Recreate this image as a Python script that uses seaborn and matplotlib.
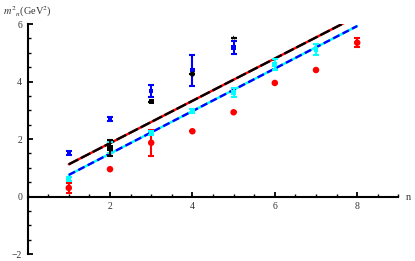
import numpy as np
import pandas as pd
import matplotlib
matplotlib.use("Agg")
import matplotlib.pyplot as plt
import seaborn as sns
from matplotlib.ticker import MultipleLocator, FixedLocator

sns.set_theme(style="white")
plt.rcParams['font.family'] = ['Liberation Serif', 'DejaVu Serif']
plt.rcParams['mathtext.fontset'] = 'stix'

# ---- data ----
line_n = [1, 8]
fit_upper = [1.12, 6.27]      # black/red dashed line
fit_lower = [0.75, 5.93]      # blue/cyan dash line

blue_n = [1, 2, 3, 4, 5]
blue_y = [1.52, 2.70, 3.67, 4.39, 5.18]
blue_err = [0.08, 0.07, 0.20, 0.53, 0.23]

black_n = [2, 3, 4, 5]
black_y = [1.69, 3.30, 4.26, 5.52]
black_err = [0.27, 0.0, 0.0, 0.0]
black_marker = ['s', 's', 'o', '*']

cyan_n = [1, 2, 3, 4, 5, 6, 7]
cyan_y = [0.61, 1.70, 2.20, 2.98, 3.62, 4.60, 5.12]
cyan_err = [0.08, 0.18, 0.07, 0.07, 0.15, 0.20, 0.20]

red_n = [1, 2, 3, 4, 5, 6, 7, 8]
red_y = [0.30, 0.95, 1.87, 2.27, 2.93, 3.95, 4.40, 5.35]
red_err = [0.18, 0.0, 0.46, 0.0, 0.0, 0.0, 0.0, 0.15]

x_ticks = [2, 4, 6, 8]
y_ticks = [-2, 0, 2, 4, 6]

# ---- figure ----
fig = plt.figure(figsize=(4.15, 2.61), dpi=100)
ax = fig.add_axes([0.0665, 0.0268, 0.8935, 0.8812])

lines_df = pd.DataFrame({'n': line_n, 'up': fit_upper, 'lo': fit_lower})

sns.lineplot(data=lines_df, x='n', y='up', ax=ax, color='red', lw=1.7, zorder=2)
sns.lineplot(data=lines_df, x='n', y='up', ax=ax, color='black', lw=1.7, zorder=3,
             dashes=False)
ax.lines[-1].set_dashes([4.5, 1.2])
sns.lineplot(data=lines_df, x='n', y='lo', ax=ax, color='cyan', lw=1.7, zorder=2)
sns.lineplot(data=lines_df, x='n', y='lo', ax=ax, color='blue', lw=1.7, zorder=3)
ax.lines[-1].set_dashes([3.0, 1.5])

# error bars
ax.errorbar(red_n, red_y, yerr=red_err, fmt='none', ecolor='red', elinewidth=1.5,
            capsize=2.5, capthick=1.5, zorder=4)
ax.errorbar(cyan_n, cyan_y, yerr=cyan_err, fmt='none', ecolor='cyan', elinewidth=1.5,
            capsize=2.5, capthick=1.5, zorder=4)
ax.errorbar(blue_n, blue_y, yerr=blue_err, fmt='none', ecolor='blue', elinewidth=1.5,
            capsize=2.5, capthick=1.5, zorder=5)
ax.errorbar(black_n, black_y, yerr=black_err, fmt='none', ecolor='black', elinewidth=1.5,
            capsize=2.5, capthick=1.5, zorder=5)

sns.scatterplot(x=red_n, y=red_y, ax=ax, color='red', s=22, marker='o',
                edgecolor='none', zorder=6)
sns.scatterplot(x=cyan_n, y=cyan_y, ax=ax, color='cyan', s=12, marker='s',
                edgecolor='none', zorder=6)
sns.scatterplot(x=blue_n, y=blue_y, ax=ax, color='blue', s=10, marker='s',
                edgecolor='none', zorder=6)
for xn, yv, mk in zip(black_n, black_y, black_marker):
    sns.scatterplot(x=[xn], y=[yv], ax=ax, color='black', s=14, marker=mk,
                    edgecolor='none', zorder=7)

ax.set_xlim(0, 9)
ax.set_ylim(-2, 6)
ax.set_facecolor('white')
ax.grid(False)

for s in ['top', 'right']:
    ax.spines[s].set_visible(False)
ax.spines['left'].set_position(('data', 0))
ax.spines['bottom'].set_position(('data', 0))
for s in ['left', 'bottom']:
    ax.spines[s].set_color('black')
    ax.spines[s].set_linewidth(1.5)

ax.xaxis.set_major_locator(FixedLocator(x_ticks))
ax.yaxis.set_major_locator(FixedLocator(y_ticks))
ax.xaxis.set_minor_locator(MultipleLocator(0.5))
ax.yaxis.set_minor_locator(MultipleLocator(0.5))
ax.set_xticklabels([str(t) for t in x_ticks])
ax.set_yticklabels(['\u22122' if t < 0 else str(t) for t in y_ticks])
ax.tick_params(which='major', direction='in', length=3.5, width=1.3, color='black',
               labelsize=7, pad=4, labelcolor='#333333')
ax.tick_params(which='minor', direction='in', length=2, width=1.0, color='black')
ax.tick_params(axis='x', which='both', bottom=True, top=False)
ax.tick_params(axis='y', which='both', left=True, right=False)

ax.set_xlabel('')
ax.set_ylabel('')
fig.text(0.985, 0.245, 'n', fontsize=7.5, color='#333333', ha='center', va='center')
fig.text(0.007, 0.955, r'$m^2{}_n$(GeV$^2$)', fontsize=7.5, color='#333333',
         ha='left', va='center')

fig.savefig('out.png', dpi=100, facecolor='white')
